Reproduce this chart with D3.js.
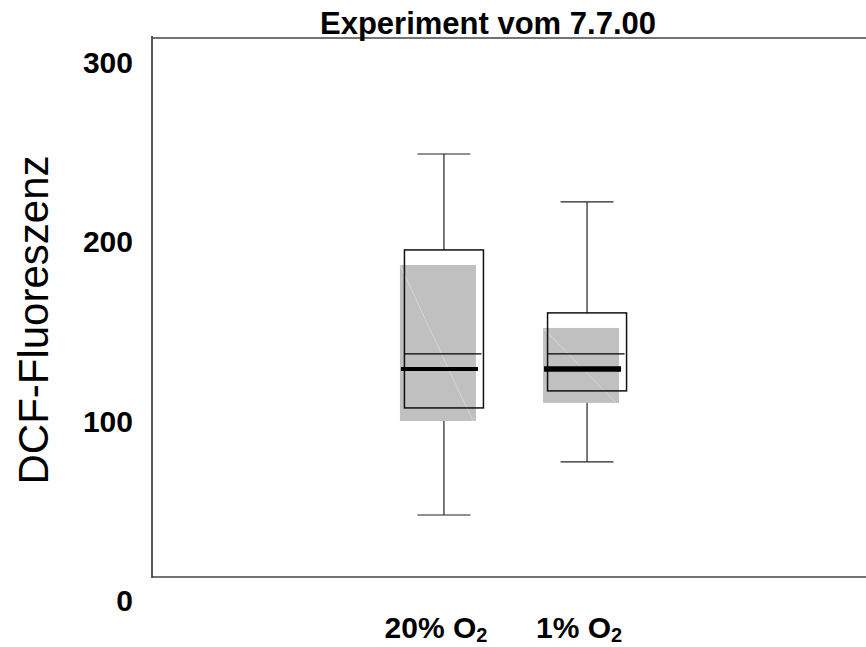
<!DOCTYPE html>
<html>
<head>
<meta charset="utf-8">
<script src="https://cdn.jsdelivr.net/npm/d3@7"></script>
<style>
  body { margin: 0; background: #fff; }
  svg { display: block; font-family: "Liberation Sans", Arial, sans-serif; }
</style>
</head>
<body>
<svg id="chart" width="866" height="647"></svg>
<script>
// groups and their summary values
const groups = ['20% O2', '1% O2'];
const whiskerLow = [47.4, 77];
const whiskerHigh = [248.7, 222];
const q1 = [107.1, 116.6];
const q3 = [195.2, 160.1];
const median = [137.2, 137.2];
const mean = [128.8, 128.8];
const sdLow = [99.8, 109.9];
const sdHigh = [186.8, 151.7];
const yTicks = [0, 100, 200, 300];

const svg = d3.select('#chart');
const width = 866;

const y = d3.scaleLinear().domain([0, 300]).range([600, 62]);
const x = d3.scalePoint().domain(groups).range([152, 879]).padding(2.04);

// frame (left, top, bottom lines only)
const frame = { left: 152, top: 38, bottom: 577 };
svg.append('line')
    .attr('x1', frame.left).attr('x2', frame.left)
    .attr('y1', frame.top - 2).attr('y2', frame.bottom + 1)
    .attr('stroke', '#222').attr('stroke-width', 1.5);
svg.append('line')
    .attr('x1', frame.left).attr('x2', width)
    .attr('y1', frame.top).attr('y2', frame.top)
    .attr('stroke', '#444').attr('stroke-width', 1.5);
svg.append('line')
    .attr('x1', frame.left).attr('x2', width)
    .attr('y1', frame.bottom).attr('y2', frame.bottom)
    .attr('stroke', '#444').attr('stroke-width', 1.5);

// y axis labels
const yAxis = svg.append('g')
    .attr('transform', 'translate(133,1)')
    .call(d3.axisLeft(y).tickValues(yTicks).tickSize(0).tickPadding(0));
yAxis.select('.domain').remove();
yAxis.selectAll('text')
    .attr('font-family', '"Liberation Sans", Arial, sans-serif')
    .attr('font-size', 30)
    .attr('font-weight', 'bold')
    .attr('fill', '#000');

// title
svg.append('text')
    .attr('x', 488).attr('y', 34)
    .attr('text-anchor', 'middle')
    .attr('font-size', 31).attr('font-weight', 'bold')
    .text('Experiment vom 7.7.00');

// y title
svg.append('text')
    .attr('transform', 'translate(48,320) rotate(-90)')
    .attr('text-anchor', 'middle')
    .attr('font-size', 42)
    .text('DCF-Fluoreszenz');

// x labels with subscript
groups.forEach((g, i) => {
  const parts = g.split('O2');
  const t = svg.append('text')
      .attr('x', x(g) - 8).attr('y', 638)
      .attr('text-anchor', 'middle')
      .attr('font-size', 30).attr('font-weight', 'bold');
  t.append('tspan').text(parts[0] + 'O');
  t.append('tspan').attr('dy', 4).attr('font-size', 20).text('2');
});

const boxW = 79, greyW = 76, capW = 53;
const greyShift = -6;
const meanStroke = [4, 5.5];

groups.forEach((g, i) => {
  const cx = x(g);
  const grp = svg.append('g');

  // whiskers
  grp.append('line')
      .attr('x1', cx).attr('x2', cx)
      .attr('y1', y(q3[i])).attr('y2', y(whiskerHigh[i]))
      .attr('stroke', '#222').attr('stroke-width', 1.2);
  grp.append('line')
      .attr('x1', cx).attr('x2', cx)
      .attr('y1', y(q1[i])).attr('y2', y(whiskerLow[i]))
      .attr('stroke', '#222').attr('stroke-width', 1.2);
  [whiskerHigh[i], whiskerLow[i]].forEach(v => {
    grp.append('line')
        .attr('x1', cx - capW / 2).attr('x2', cx + capW / 2)
        .attr('y1', y(v)).attr('y2', y(v))
        .attr('stroke', '#222').attr('stroke-width', 1.2);
  });

  // grey sd box
  const gx = cx + greyShift - greyW / 2;
  grp.append('rect')
      .attr('x', gx).attr('y', y(sdHigh[i]))
      .attr('width', greyW).attr('height', y(sdLow[i]) - y(sdHigh[i]))
      .attr('fill', '#c0c0c0');
  grp.append('line')
      .attr('x1', gx).attr('y1', y(sdHigh[i]))
      .attr('x2', gx + greyW - 3).attr('y2', y(sdLow[i]))
      .attr('stroke', '#dadada').attr('stroke-width', 0.8);

  // quartile box
  grp.append('rect')
      .attr('x', cx - boxW / 2).attr('y', y(q3[i]))
      .attr('width', boxW).attr('height', y(q1[i]) - y(q3[i]))
      .attr('fill', 'none').attr('stroke', '#111').attr('stroke-width', 1.5);

  // median
  grp.append('line')
      .attr('x1', cx - boxW / 2).attr('x2', cx + boxW / 2 - 2)
      .attr('y1', y(median[i])).attr('y2', y(median[i]))
      .attr('stroke', '#000').attr('stroke-width', 1.2);

  // mean
  grp.append('line')
      .attr('x1', cx - 43).attr('x2', cx + 34)
      .attr('y1', y(mean[i])).attr('y2', y(mean[i]))
      .attr('stroke', '#000').attr('stroke-width', meanStroke[i]);
});
</script>
</body>
</html>
